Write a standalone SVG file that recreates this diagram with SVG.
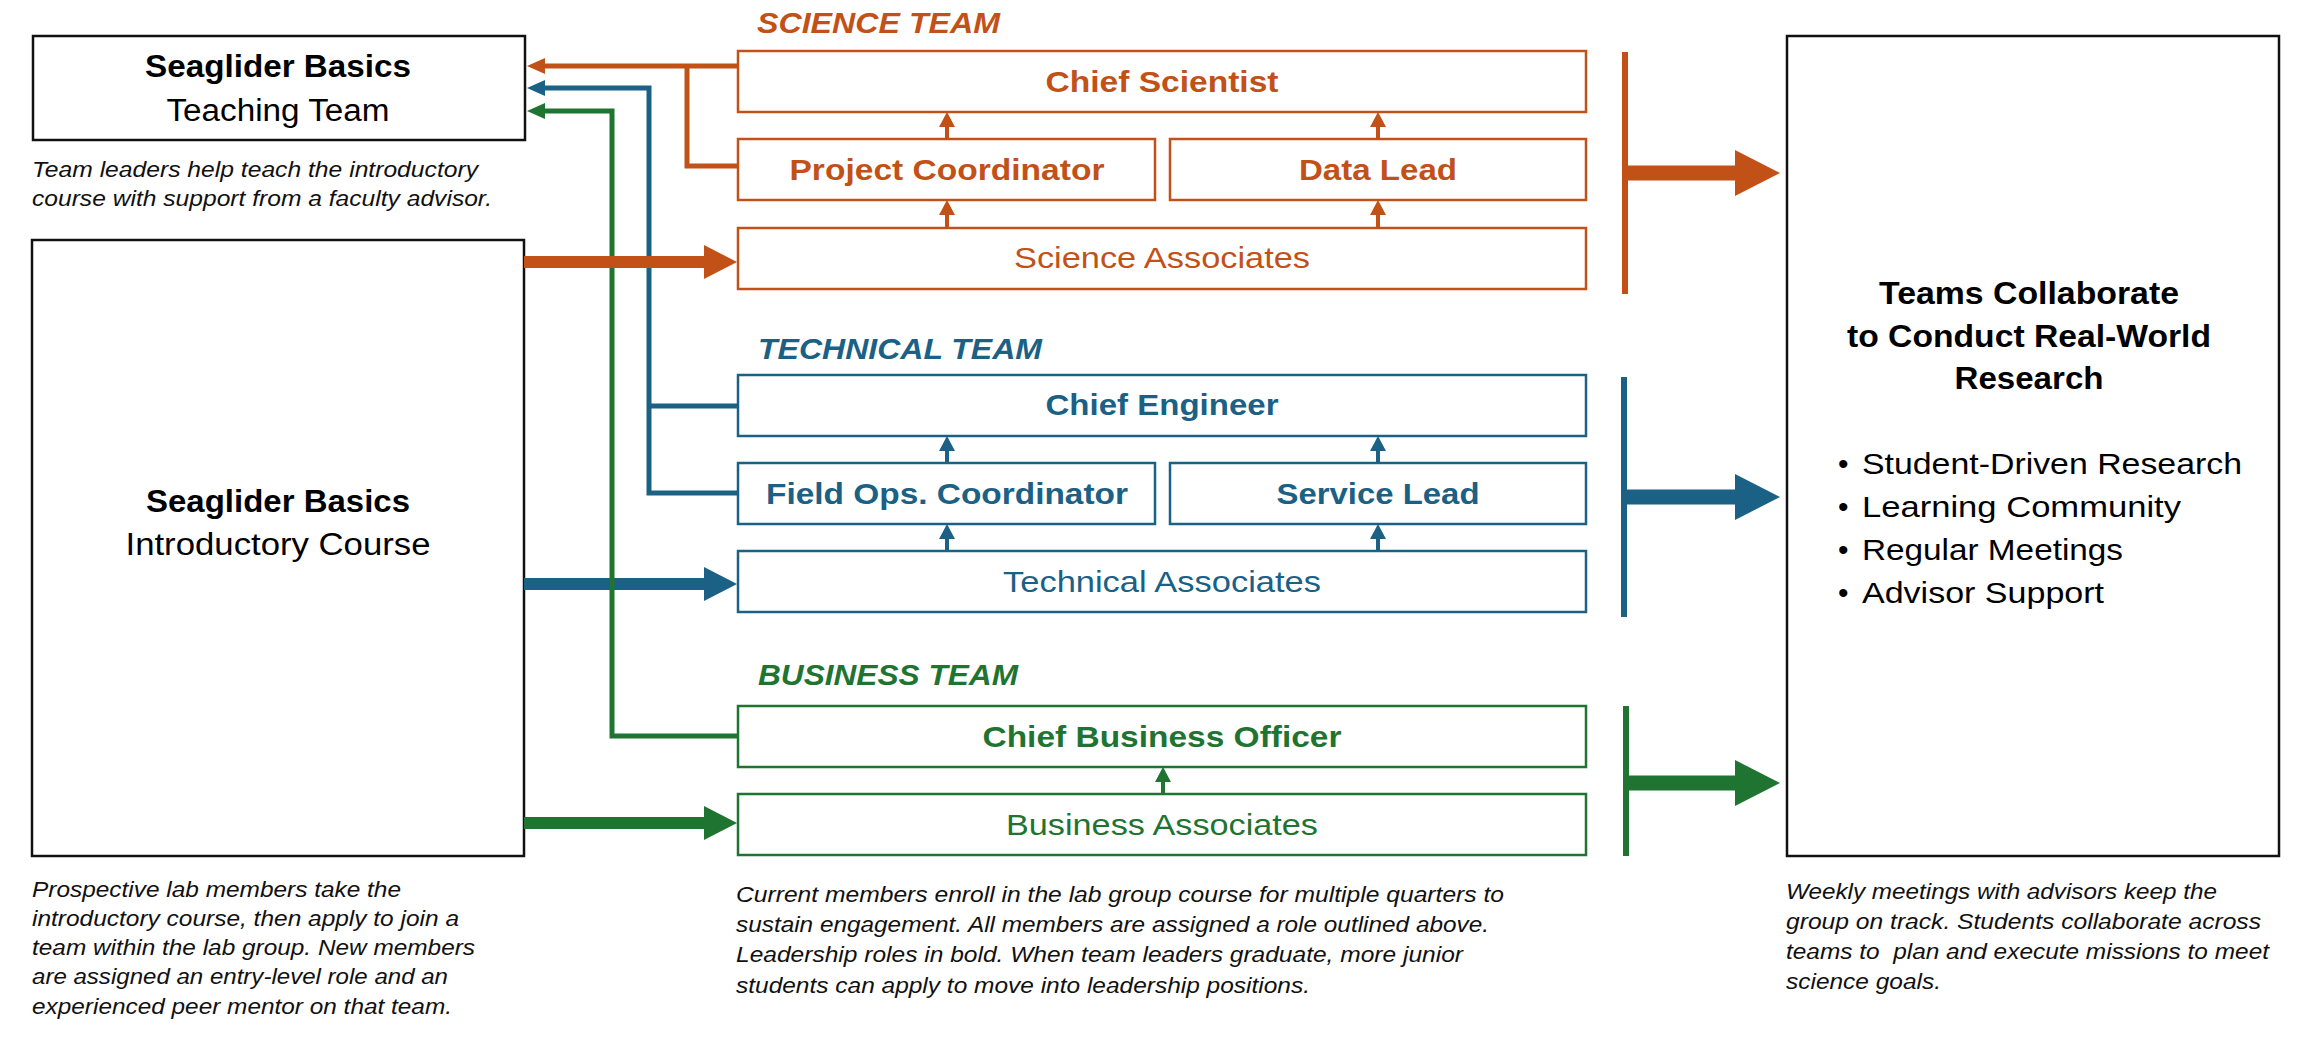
<svg xmlns="http://www.w3.org/2000/svg" width="2304" height="1039" viewBox="0 0 2304 1039">
<style>
text{font-family:"Liberation Sans",Arial,sans-serif;}
.bx{fill:#fff;stroke:#111;stroke-width:2.5;}
.ttl{font-size:31px;font-weight:bold;fill:#000;text-anchor:middle;}
.sub{font-size:31px;fill:#000;text-anchor:middle;}
.cap{font-size:22px;font-style:italic;fill:#111;}
.o{stroke:#C25118;fill:#fff;stroke-width:2.5;}
.b{stroke:#1B6085;fill:#fff;stroke-width:2.5;}
.g{stroke:#1E7430;fill:#fff;stroke-width:2.5;}
.lb{font-size:30px;font-weight:bold;text-anchor:middle;}
.lr{font-size:30px;text-anchor:middle;}
.hd{font-size:30px;font-weight:bold;font-style:italic;}
.fo{fill:#C25118;} .fb{fill:#1B6085;} .fg{fill:#1E7430;}
.so{stroke:#C25118;} .sb{stroke:#1B6085;} .sg{stroke:#1E7430;}
.thin{fill:none;stroke-width:5;}
.sm{fill:none;stroke-width:4;}
.bul{font-size:30px;fill:#000;}
</style>

<g id="teaching-team">
<rect class="bx" x="33" y="36" width="492" height="104"/>
<text class="ttl" x="278" y="77" textLength="266" lengthAdjust="spacingAndGlyphs">Seaglider Basics</text>
<text class="sub" x="278" y="121" textLength="223" lengthAdjust="spacingAndGlyphs">Teaching Team</text>
<text class="cap" x="32" y="177" textLength="446" lengthAdjust="spacingAndGlyphs">Team leaders help teach the introductory</text>
<text class="cap" x="32" y="206" textLength="460" lengthAdjust="spacingAndGlyphs">course with support from a faculty advisor.</text>
</g>

<g id="intro-course">
<rect class="bx" x="32" y="240" width="492" height="616"/>
<text class="ttl" x="278" y="512" textLength="264" lengthAdjust="spacingAndGlyphs">Seaglider Basics</text>
<text class="sub" x="278" y="555" textLength="305" lengthAdjust="spacingAndGlyphs">Introductory Course</text>
<text class="cap" x="32" y="897" textLength="369" lengthAdjust="spacingAndGlyphs">Prospective lab members take the</text>
<text class="cap" x="32" y="926" textLength="427" lengthAdjust="spacingAndGlyphs">introductory course, then apply to join a</text>
<text class="cap" x="32" y="955" textLength="443" lengthAdjust="spacingAndGlyphs">team within the lab group. New members</text>
<text class="cap" x="32" y="984" textLength="416" lengthAdjust="spacingAndGlyphs">are assigned an entry-level role and an</text>
<text class="cap" x="32" y="1014" textLength="420" lengthAdjust="spacingAndGlyphs">experienced peer mentor on that team.</text>
</g>

<g id="science-team">
<text class="hd fo" x="757" y="33" textLength="243" lengthAdjust="spacingAndGlyphs">SCIENCE TEAM</text>
<g id="chief-scientist"><rect class="o" x="738" y="51" width="848" height="61"/>
<text class="lb fo" x="1162" y="92" textLength="233" lengthAdjust="spacingAndGlyphs">Chief Scientist</text></g>
<g id="project-coordinator"><rect class="o" x="738" y="139" width="417" height="61"/>
<text class="lb fo" x="947" y="180" textLength="315" lengthAdjust="spacingAndGlyphs">Project Coordinator</text></g>
<g id="data-lead"><rect class="o" x="1170" y="139" width="416" height="61"/>
<text class="lb fo" x="1378" y="180" textLength="158" lengthAdjust="spacingAndGlyphs">Data Lead</text></g>
<g id="science-associates"><rect class="o" x="738" y="228" width="848" height="61"/>
<text class="lr fo" x="1162" y="268" textLength="296" lengthAdjust="spacingAndGlyphs">Science Associates</text></g>
</g>

<g id="technical-team">
<text class="hd fb" x="758" y="359" textLength="284" lengthAdjust="spacingAndGlyphs">TECHNICAL TEAM</text>
<g id="chief-engineer"><rect class="b" x="738" y="375" width="848" height="61"/>
<text class="lb fb" x="1162" y="415" textLength="233" lengthAdjust="spacingAndGlyphs">Chief Engineer</text></g>
<g id="field-ops"><rect class="b" x="738" y="463" width="417" height="61"/>
<text class="lb fb" x="947" y="504" textLength="362" lengthAdjust="spacingAndGlyphs">Field Ops. Coordinator</text></g>
<g id="service-lead"><rect class="b" x="1170" y="463" width="416" height="61"/>
<text class="lb fb" x="1378" y="504" textLength="203" lengthAdjust="spacingAndGlyphs">Service Lead</text></g>
<g id="technical-associates"><rect class="b" x="738" y="551" width="848" height="61"/>
<text class="lr fb" x="1162" y="592" textLength="318" lengthAdjust="spacingAndGlyphs">Technical Associates</text></g>
</g>

<g id="business-team">
<text class="hd fg" x="758" y="685" textLength="260" lengthAdjust="spacingAndGlyphs">BUSINESS TEAM</text>
<g id="chief-business-officer"><rect class="g" x="738" y="706" width="848" height="61"/>
<text class="lb fg" x="1162" y="747" textLength="359" lengthAdjust="spacingAndGlyphs">Chief Business Officer</text></g>
<g id="business-associates"><rect class="g" x="738" y="794" width="848" height="61"/>
<text class="lr fg" x="1162" y="835" textLength="312" lengthAdjust="spacingAndGlyphs">Business Associates</text></g>
</g>

<g id="middle-caption">
<text class="cap" x="736" y="902" textLength="768" lengthAdjust="spacingAndGlyphs">Current members enroll in the lab group course for multiple quarters to</text>
<text class="cap" x="736" y="932" textLength="753" lengthAdjust="spacingAndGlyphs">sustain engagement. All members are assigned a role outlined above.</text>
<text class="cap" x="736" y="962" textLength="727" lengthAdjust="spacingAndGlyphs">Leadership roles in bold. When team leaders graduate, more junior</text>
<text class="cap" x="736" y="993" textLength="574" lengthAdjust="spacingAndGlyphs">students can apply to move into leadership positions.</text>
</g>

<g id="research">
<rect class="bx" x="1787" y="36" width="492" height="820"/>
<text class="ttl" x="2029" y="304" textLength="300" lengthAdjust="spacingAndGlyphs">Teams Collaborate</text>
<text class="ttl" x="2029" y="347" textLength="364" lengthAdjust="spacingAndGlyphs">to Conduct Real-World</text>
<text class="ttl" x="2029" y="389" textLength="149" lengthAdjust="spacingAndGlyphs">Research</text>
<text class="bul" x="1838" y="474">•</text>
<text class="bul" x="1862" y="474" textLength="380" lengthAdjust="spacingAndGlyphs">Student-Driven Research</text>
<text class="bul" x="1838" y="517">•</text>
<text class="bul" x="1862" y="517" textLength="319" lengthAdjust="spacingAndGlyphs">Learning Community</text>
<text class="bul" x="1838" y="560">•</text>
<text class="bul" x="1862" y="560" textLength="261" lengthAdjust="spacingAndGlyphs">Regular Meetings</text>
<text class="bul" x="1838" y="603">•</text>
<text class="bul" x="1862" y="603" textLength="242" lengthAdjust="spacingAndGlyphs">Advisor Support</text>
<text class="cap" x="1786" y="899" textLength="431" lengthAdjust="spacingAndGlyphs">Weekly meetings with advisors keep the</text>
<text class="cap" x="1786" y="929" textLength="475" lengthAdjust="spacingAndGlyphs">group on track. Students collaborate across</text>
<text class="cap" x="1786" y="959" textLength="483" lengthAdjust="spacingAndGlyphs" xml:space="preserve">teams to  plan and execute missions to meet</text>
<text class="cap" x="1786" y="989" textLength="155" lengthAdjust="spacingAndGlyphs">science goals.</text>
</g>

<g id="connectors">
<path class="sb" d="M524 584H706" stroke-width="12" fill="none"/>
<polygon class="fb" points="704,567 737,584 704,601"/>
<path class="thin so" d="M738 66H543M738 166H687V66"/>
<polygon class="fo" points="527,66 545,58 545,74"/>
<path class="thin sb" d="M738 493H649V88H543M649 406H738"/>
<polygon class="fb" points="527,88 545,80 545,96"/>
<path class="thin sg" d="M738 736H612V111H543"/>
<polygon class="fg" points="527,111 545,103 545,119"/>
<path class="so" d="M524 262H706" stroke-width="12" fill="none"/>
<polygon class="fo" points="704,245 737,262 704,279"/>
<path class="sg" d="M524 823H706" stroke-width="12" fill="none"/>
<polygon class="fg" points="704,806 737,823 704,840"/>
<path class="sm so" d="M947 228V213M1378 228V213M947 139V125M1378 139V125"/>
<polygon class="fo" points="947,200 939,215 955,215"/>
<polygon class="fo" points="1378,200 1370,215 1386,215"/>
<polygon class="fo" points="947,112 939,127 955,127"/>
<polygon class="fo" points="1378,112 1370,127 1386,127"/>
<path class="sm sb" d="M947 551V537M1378 551V537M947 463V449M1378 463V449"/>
<polygon class="fb" points="947,524 939,539 955,539"/>
<polygon class="fb" points="1378,524 1370,539 1386,539"/>
<polygon class="fb" points="947,436 939,451 955,451"/>
<polygon class="fb" points="1378,436 1370,451 1386,451"/>
<path class="sm sg" d="M1163 794V780"/>
<polygon class="fg" points="1163,767 1155,782 1171,782"/>
<rect class="fo" x="1622" y="52" width="6" height="242"/>
<path class="so" d="M1625 173H1737" stroke-width="15" fill="none"/>
<polygon class="fo" points="1735,150 1780,173 1735,196"/>
<rect class="fb" x="1621" y="377" width="6" height="240"/>
<path class="sb" d="M1624 497H1737" stroke-width="15" fill="none"/>
<polygon class="fb" points="1735,474 1780,497 1735,520"/>
<rect class="fg" x="1623" y="706" width="6" height="150"/>
<path class="sg" d="M1626 783H1737" stroke-width="15" fill="none"/>
<polygon class="fg" points="1735,760 1780,783 1735,806"/>
</g>
</svg>
